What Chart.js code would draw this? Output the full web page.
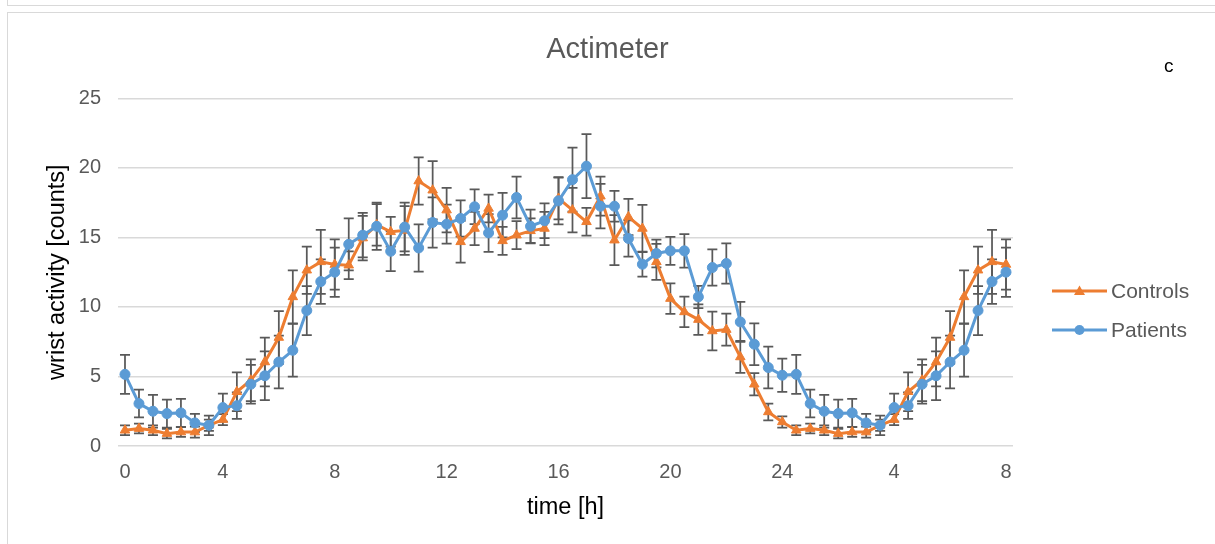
<!DOCTYPE html>
<html>
<head>
<meta charset="utf-8">
<script src="https://cdn.jsdelivr.net/npm/chart.js@4.4.1/dist/chart.umd.min.js"></script>
<style>
  html, body { margin: 0; padding: 0; background: #fff; }
  body { width: 1215px; height: 544px; position: relative; overflow: hidden;
         font-family: "Liberation Sans", Arial, sans-serif; }
  .frame { position: absolute; border: 1px solid #d9d9d9; }
  #wrap { position: absolute; left: 0; top: 0; width: 1215px; height: 544px; }
  .lg { position: absolute; left: 1052px; width: 160px; height: 20px; }
  .lg svg { position: absolute; left: 0; top: 3px; }
  .lg span { position: absolute; left: 59px; top: -3px; font-size: 21px; line-height: 25px; color: #595959; }
  #tag { position: absolute; left: 1164px; top: 55px; font-size: 19px; color: #000; }
</style>
</head>
<body>
<div class="frame" style="left:7px; top:-30px; width:1300px; height:34px;"></div>
<div class="frame" style="left:7px; top:12px; width:1300px; height:600px;"></div>
<div id="wrap"><canvas id="c" width="1215" height="544"></canvas></div>
<div id="tag">c</div>
<div class="lg" style="top:281px;">
  <svg width="56" height="14"><line x1="0" y1="7" x2="55" y2="7" stroke="#ED7D31" stroke-width="3"/><polygon points="27.5,1.5 33,11 22,11" fill="#ED7D31"/></svg>
  <span>Controls</span>
</div>
<div class="lg" style="top:320px;">
  <svg width="56" height="14"><line x1="0" y1="7" x2="55" y2="7" stroke="#5B9BD5" stroke-width="3"/><circle cx="27.5" cy="7" r="5" fill="#5B9BD5"/></svg>
  <span>Patients</span>
</div>
<script>
// half-hour slots, 0h .. 8h of the next day
const tickLabels = ['0','','','','','','','4','','','','','','','','8',
  '','','','','','','','12','','','','','','','','16',
  '','','','','','','','20','','','','','','','','24',
  '','','','','','','','4','','','','','','','','8'];

const controls = [1.13, 1.25, 1.13, 0.89, 1.0, 1.0, 1.49, 1.9, 3.9, 4.73, 6.04, 7.8, 10.72, 12.64, 13.24, 13.05,
  13.0, 14.95, 15.9, 15.4, 15.5, 19.05, 18.39, 16.96, 14.68, 15.64, 17.08, 14.75, 15.16, 15.47, 15.64, 17.8,
  16.96, 16.12, 17.96, 14.8, 16.47, 15.64, 13.24, 10.6, 9.64, 9.09, 8.27, 8.37, 6.4, 4.44, 2.45, 1.73,
  1.13, 1.25, 1.13, 0.89, 1.0, 1.0, 1.49, 1.9, 3.9, 4.73, 6.04, 7.8, 10.72, 12.64, 13.24, 13.05];

const controlsErr = [0.35, 0.35, 0.35, 0.35, 0.35, 0.4, 0.4, 0.4, 1.4, 1.5, 1.76, 1.9, 1.9, 1.7, 2.3, 1.8,
  1.0, 1.6, 1.5, 1.07, 1.75, 1.7, 2.1, 1.6, 1.5, 1.2, 1.0, 1.0, 1.0, 0.9, 1.2, 1.5,
  1.6, 1.0, 1.4, 1.8, 1.3, 1.7, 1.3, 1.1, 1.1, 1.1, 1.4, 1.15, 1.15, 0.8, 0.6, 0.4,
  0.35, 0.35, 0.35, 0.35, 0.35, 0.4, 0.4, 0.4, 1.4, 1.5, 1.76, 1.9, 1.9, 1.7, 2.3, 1.8];

const patients = [5.15, 3.05, 2.5, 2.33, 2.38, 1.66, 1.49, 2.76, 2.9, 4.44, 5.05, 6.04, 6.88, 9.74, 11.82, 12.5,
  14.5, 15.16, 15.8, 14.0, 15.74, 14.24, 16.07, 15.95, 16.36, 17.2, 15.32, 16.6, 17.87, 15.8, 16.19, 17.63,
  19.15, 20.12, 17.24, 17.24, 14.92, 13.07, 13.84, 14.03, 14.03, 10.72, 12.83, 13.12, 8.92, 7.32, 5.64, 5.09,
  5.15, 3.05, 2.5, 2.33, 2.38, 1.66, 1.49, 2.76, 2.9, 4.44, 5.05, 6.04, 6.88, 9.74, 11.82, 12.5];

const patientsErr = [1.4, 1.0, 1.17, 1.0, 1.0, 0.65, 0.7, 1.0, 0.95, 1.4, 1.75, 1.9, 1.9, 1.76, 1.6, 1.77,
  1.87, 1.6, 1.7, 1.43, 1.75, 1.7, 1.8, 1.4, 1.3, 1.25, 1.36, 1.6, 1.5, 1.2, 1.25, 1.7,
  2.3, 2.3, 1.6, 1.1, 1.3, 0.9, 1.0, 1.0, 1.2, 0.8, 1.3, 1.45, 1.44, 1.5, 1.5, 1.2,
  1.4, 1.0, 1.17, 1.0, 1.0, 0.65, 0.7, 1.0, 0.95, 1.4, 1.75, 1.9, 1.9, 1.76, 1.6, 1.77];

const FONT = '"Liberation Sans", Arial, sans-serif';

// vertical error bars with caps, drawn under the lines
const errorBars = {
  id: 'errorBars',
  beforeDatasetsDraw(chart) {
    const { ctx, scales: { x, y } } = chart;
    ctx.save();
    ctx.strokeStyle = '#595959';
    ctx.lineWidth = 1.75;
    chart.data.datasets.forEach((ds) => {
      ds.data.forEach((v, j) => {
        const e = ds.errors[j];
        const px = x.getPixelForValue(j);
        const top = y.getPixelForValue(v + e);
        const bot = y.getPixelForValue(v - e);
        ctx.beginPath();
        ctx.moveTo(px, top); ctx.lineTo(px, bot);
        ctx.moveTo(px - 5, top); ctx.lineTo(px + 5, top);
        ctx.moveTo(px - 5, bot); ctx.lineTo(px + 5, bot);
        ctx.stroke();
      });
    });
    ctx.restore();
  }
};

new Chart(document.getElementById('c'), {
  type: 'line',
  data: {
    labels: tickLabels,
    datasets: [{
      label: 'Controls',
      data: controls,
      errors: controlsErr,
      borderColor: '#ED7D31',
      backgroundColor: '#ED7D31',
      borderWidth: 3,
      pointStyle: 'triangle',
      pointRadius: 5.5,
      pointBorderWidth: 1,
      tension: 0,
      order: 2
    }, {
      label: 'Patients',
      data: patients,
      errors: patientsErr,
      borderColor: '#5B9BD5',
      backgroundColor: '#5B9BD5',
      borderWidth: 3,
      pointStyle: 'circle',
      pointRadius: 5,
      pointBorderWidth: 1,
      tension: 0,
      order: 1
    }]
  },
  options: {
    responsive: false,
    animation: false,
    layout: { padding: 0 },
    plugins: {
      legend: { display: false },
      tooltip: { enabled: false },
      title: {
        display: true,
        text: 'Actimeter',
        color: '#595959',
        font: { family: FONT, size: 29, weight: 'normal' },
        padding: { top: 32.6, bottom: 30.9 }
      }
    },
    scales: {
      x: {
        offset: true,
        grid: { display: false },
        border: { display: false },
        ticks: { autoSkip: false, maxRotation: 0, color: '#595959', padding: 6,
                 font: { family: FONT, size: 20 } },
        title: { display: true, text: 'time [h]', color: '#000',
                 font: { family: FONT, size: 23.5 }, padding: { top: 4, bottom: 22 } },
        afterFit: (s) => { s.height = 98; }
      },
      y: {
        min: 0, max: 25,
        ticks: { stepSize: 5, color: '#595959', padding: 17,
                 font: { family: FONT, size: 20 } },
        grid: { color: '#d9d9d9', lineWidth: 1.5, drawTicks: false },
        border: { display: false },
        title: { display: true, text: 'wrist activity [counts]', color: '#000',
                 font: { family: FONT, size: 23.5 }, padding: { top: 43, bottom: 4 } },
        afterFit: (s) => { s.width = 118; }
      },
      // empty right-hand space for the legend
      side: {
        type: 'linear',
        axis: 'y',
        position: 'right',
        grid: { display: false },
        border: { display: false },
        ticks: { display: false },
        afterFit: (s) => { s.width = 202; }
      }
    }
  },
  plugins: [errorBars]
});
</script>
</body>
</html>
